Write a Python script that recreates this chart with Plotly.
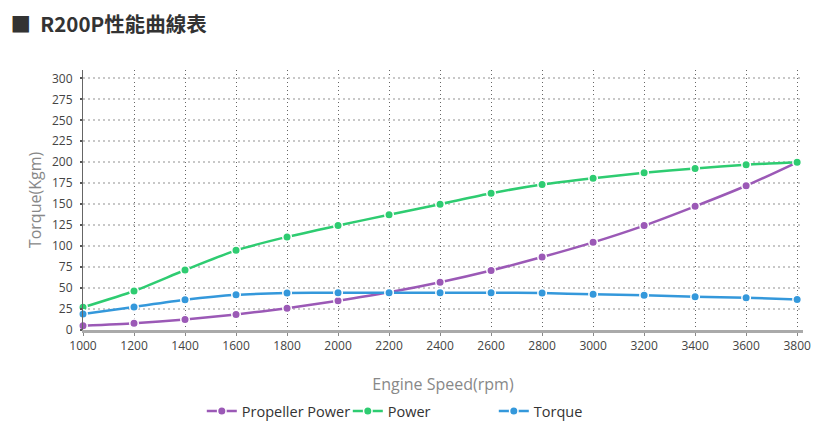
import plotly.graph_objects as go

# Engine speed (rpm)
rpm = [1000, 1200, 1400, 1600, 1800, 2000, 2200, 2400, 2600, 2800, 3000, 3200, 3400, 3600, 3800]

# Curves
propeller_power = [5, 8, 12.5, 18.5, 26, 35, 45, 57, 71, 87, 104.5, 124.5, 147.5, 172, 200]
power = [27, 46.5, 71.5, 95, 111, 124.5, 137.5, 150, 163, 173.5, 181, 187.5, 192.5, 197, 200]
torque = [19, 27.5, 36, 42, 44, 44.5, 44.5, 44.5, 44.5, 44, 42.5, 41.5, 39.5, 38.5, 36.5]

y_ticks = list(range(0, 301, 25))
x_ticks = rpm

series = [
    ("Propeller Power", propeller_power, "#9b59b6"),
    ("Power", power, "#2ecc71"),
    ("Torque", torque, "#3498db"),
]

fig = go.Figure()
for name, values, color in series:
    fig.add_trace(go.Scatter(
        x=rpm, y=values, name=name, mode="lines+markers",
        line=dict(color=color, width=2.5, shape="spline", smoothing=0.6),
        marker=dict(size=8.5, color=color, line=dict(color="white", width=1.5)),
        cliponaxis=False,
    ))

# page body keeps its default 8px margin, so the figure is 8px smaller
fig.update_layout(
    width=817, height=418,
    margin=dict(l=75, r=22, t=62, b=96),
    paper_bgcolor="white", plot_bgcolor="white",
    font=dict(family="Open Sans, Noto Sans CJK TC", color="#444", size=12),
    title=dict(
        text="<b>■  R200P性能曲線表</b>",
        font=dict(family="Noto Sans CJK TC", size=20.5, color="#333"),
        x=0.003, xanchor="left", y=0.959, yanchor="middle",
    ),
    showlegend=True,
    legend=dict(
        orientation="h", x=0.165, xanchor="left",
        yref="container", y=0.036, yanchor="middle",
        font=dict(size=14.5, color="#333"),
        itemwidth=30, entrywidth=101, entrywidthmode="pixels",
    ),
)

fig.update_xaxes(
    range=[1000, 3823], tickvals=x_ticks, automargin=False,
    showgrid=True, gridcolor="#666", griddash="1px,3px", gridwidth=1,
    showline=True, linecolor="#aaa", linewidth=3,
    ticks="outside", ticklen=3, tickcolor="#888",
    tickfont=dict(size=12, color="#444"),
    title=dict(text="Engine Speed(rpm)", font=dict(size=16, color="#888"), standoff=32),
    zeroline=False,
)
fig.update_yaxes(
    range=[0, 310], tickvals=y_ticks, automargin=False,
    showgrid=True, gridcolor="#c8c8c8", griddash="2px,3px", gridwidth=1.5,
    showline=True, linecolor="#666", linewidth=1,
    ticks="outside", ticklen=2, tickwidth=2, tickcolor="#555",
    ticklabelstandoff=5,
    tickfont=dict(size=12, color="#444"),
    title=dict(text="Torque(Kgm)", font=dict(size=16, color="#888"), standoff=6),
    zeroline=False,
)

fig.write_html("out.html")
